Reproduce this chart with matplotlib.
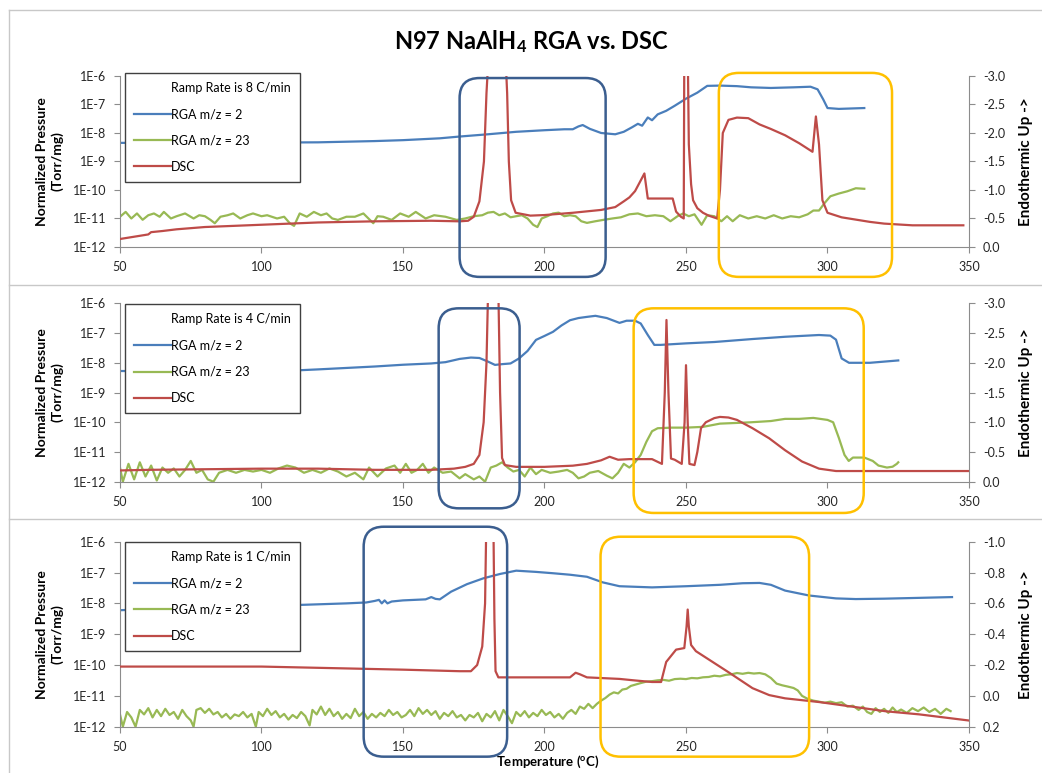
import matplotlib
matplotlib.use('Agg')
import matplotlib.pyplot as plt
from matplotlib.patches import FancyBboxPatch
from matplotlib.lines import Line2D
import matplotlib.transforms as mtransforms
from matplotlib.ticker import FixedLocator, NullLocator, FixedFormatter

plt.rcParams['font.family'] = ['Lato', 'DejaVu Sans']
plt.rcParams['mathtext.default'] = 'regular'

#---------------------------------------------------------------#
# data: (temperature C, value)
# RGA in Torr/mg, DSC in its own units (negative = endothermic up)

# ramp 8 C/min
h2_8 = [(50, 4.5e-9), (60, 4.5e-9), (80, 4.6e-9), (100, 4.6e-9), (120, 4.7e-9), (140, 5.2e-9),
        (150, 5.6e-9), (163, 6.5e-9), (170, 7.5e-9), (180, 9e-9), (190, 1.1e-8), (200, 1.25e-8),
        (207, 1.35e-8), (210, 1.35e-8), (212, 1.7e-8), (213.5, 1.9e-8), (216, 1.4e-8), (220, 1.0e-8),
        (225, 9e-9), (228, 1.1e-8), (231, 1.6e-8), (233, 2.1e-8), (234.5, 1.8e-8), (236.5, 3.5e-8),
        (238, 2.8e-8), (240, 4.5e-8), (243, 6e-8), (246, 9e-8), (250, 1.6e-7), (254, 2.6e-7),
        (257.5, 4.5e-7), (262, 4.6e-7), (268, 4.4e-7), (273, 4e-7), (280, 3.8e-7), (288, 4e-7),
        (294, 4.2e-7), (296.5, 3.4e-7), (298.5, 1.5e-7), (300, 7.5e-8), (304, 7e-8), (313, 7.5e-8)]
na_8 = [(50, 1.15e-11), (52, 1.7e-11), (54, 1.0e-11), (56, 1.5e-11), (58, 9e-12), (60, 1.3e-11),
        (62, 1.5e-11), (64, 1.15e-11), (65.5, 1.7e-11), (68, 1.0e-11), (70, 1.2e-11), (73, 1.5e-11),
        (76, 1.0e-11), (78, 1.3e-11), (80, 1.2e-11), (82, 8.9e-12), (83.5, 6.8e-12), (85.5, 1.15e-11),
        (88, 1.3e-11), (90, 1.5e-11), (92.5, 1.0e-11), (95, 1.3e-11), (97, 1.5e-11), (100, 1.2e-11),
        (102, 1.3e-11), (105.5, 1.0e-11), (108, 1.15e-11), (110, 6.8e-12), (111.5, 5.5e-12),
        (113.5, 1.5e-11), (116, 1.15e-11), (118.5, 1.7e-11), (121, 1.3e-11), (123, 1.5e-11),
        (125, 1.0e-11), (127, 8.9e-12), (130, 1.15e-11), (133, 1.15e-11), (136, 1.5e-11),
        (139.5, 6.8e-12), (141, 1.2e-11), (143, 1.15e-11), (146, 8.9e-12), (149, 1.5e-11),
        (152, 1.15e-11), (154.5, 1.7e-11), (158, 1.0e-11), (161, 1.3e-11), (165, 1.15e-11),
        (169, 8.9e-12), (172, 1.0e-11), (175, 1.2e-11), (178, 1.3e-11), (180, 1.6e-11), (182, 1.7e-11),
        (184, 1.3e-11), (186, 1.5e-11), (188, 1.1e-11), (190, 1.2e-11), (192, 1.3e-11), (194, 1.0e-11),
        (196, 6e-12), (197.5, 5e-12), (199, 1.0e-11), (201, 1.2e-11), (203, 1.5e-11), (205, 1.6e-11),
        (207, 1.2e-11), (209, 1.3e-11), (211, 1.2e-11), (213, 8e-12), (215, 7e-12), (218, 8e-12),
        (221, 9e-12), (224, 1.0e-11), (227, 1.1e-11), (230, 1.4e-11), (233, 1.5e-11), (236, 1.2e-11),
        (239, 1.3e-11), (242, 1.2e-11), (244.5, 8e-12), (247, 1.2e-11), (249, 1.5e-11), (251, 1.2e-11),
        (253, 1.4e-11), (255.5, 6e-12), (257.5, 1.3e-11), (260, 1.2e-11), (262.5, 8e-12),
        (264.5, 1.2e-11), (266.5, 8e-12), (269, 1.3e-11), (272, 1.0e-11), (275, 1.2e-11),
        (278, 1.0e-11), (281, 1.3e-11), (284, 1.0e-11), (287, 1.2e-11), (290, 1.1e-11),
        (293, 1.4e-11), (295, 1.9e-11), (297, 1.9e-11), (299, 3.5e-11), (301, 6e-11), (304, 7.5e-11),
        (307, 9e-11), (310, 1.15e-10), (313, 1.1e-10)]
dsc_8 = [(50, -0.14), (55, -0.18), (60, -0.22), (61, -0.26), (65, -0.28), (70, -0.31), (80, -0.35),
         (90, -0.37), (100, -0.39), (120, -0.43), (140, -0.45), (160, -0.46), (170, -0.45),
         (173, -0.46), (175, -0.53), (177, -0.8), (178.6, -1.5), (179.5, -2.7), (180.5, -3.6),
         (186, -3.6), (186.8, -2.7), (187.4, -1.5), (188.2, -0.82), (189.8, -0.6), (195, -0.55),
         (200, -0.56), (210, -0.6), (220, -0.65), (225, -0.7), (228, -0.8), (230, -0.87),
         (232, -0.98), (233.5, -1.12), (235.3, -1.29), (236.5, -0.85), (240, -0.85), (245.3, -0.85),
         (246.5, -0.62), (248.2, -0.53), (249.2, -0.5), (249.4, -3.5), (250.6, -3.5), (251, -1.8),
         (251.8, -1.1), (252.5, -0.82), (254, -0.68), (256, -0.6), (258, -0.55), (261, -0.5),
         (262, -1.0), (263, -2.0), (265, -2.23), (268, -2.27), (272, -2.26), (276, -2.15),
         (280, -2.07), (285, -1.96), (290, -1.82), (294.7, -1.67), (295.9, -2.29), (297, -1.8),
         (298.2, -0.82), (300, -0.6), (305, -0.52), (310, -0.48), (315, -0.44), (320, -0.41),
         (330, -0.38), (348, -0.38)]

# ramp 4 C/min
h2_4 = [(50, 5.3e-9), (60, 5.2e-9), (80, 5.0e-9), (100, 4.9e-9), (120, 6e-9), (140, 7.5e-9),
        (150, 8.6e-9), (160, 9.5e-9), (165, 1.05e-8), (170, 1.35e-8), (174, 1.5e-8), (177, 1.45e-8),
        (180, 1.1e-8), (182.5, 8.5e-9), (185, 9e-9), (188, 9.5e-9), (191, 1.4e-8), (194, 2.5e-8),
        (197, 5.9e-8), (200, 8e-8), (203, 1.1e-7), (206, 1.8e-7), (209, 2.7e-7), (212, 3.2e-7),
        (215, 3.5e-7), (218, 3.8e-7), (222, 3.2e-7), (226.5, 2.2e-7), (229, 2.6e-7), (232, 2.6e-7),
        (234, 2.1e-7), (236.5, 8.6e-8), (238.8, 4e-8), (241, 4e-8), (250, 4.5e-8), (260, 5e-8),
        (273.5, 6.3e-8), (285, 7.5e-8), (297, 8.6e-8), (301, 8.2e-8), (303, 6e-8), (305, 1.4e-8),
        (307.6, 1.0e-8), (315, 1.0e-8), (325, 1.2e-8)]
na_4 = [(50, 3e-12), (51, 1e-12), (53, 4e-12), (55, 1.2e-12), (57, 4.5e-12), (59, 1.5e-12),
        (61, 3.5e-12), (63, 1.1e-12), (65, 3e-12), (67, 2e-12), (69, 2.8e-12), (71, 1.5e-12),
        (73, 2.5e-12), (75, 5e-12), (77, 2e-12), (79, 2.5e-12), (81, 1.2e-12), (83, 1e-12),
        (85, 2e-12), (88, 2.5e-12), (91, 2e-12), (94, 2.5e-12), (97, 2.2e-12), (100, 2.5e-12),
        (103, 2e-12), (106, 2.8e-12), (109, 3.5e-12), (112, 3e-12), (115, 2e-12), (118, 2.5e-12),
        (121, 2e-12), (124, 2.8e-12), (127, 2.2e-12), (130, 1.5e-12), (133, 2e-12), (136, 1.2e-12),
        (138, 3e-12), (141, 1.5e-12), (144, 2.8e-12), (147, 3.5e-12), (149, 2e-12), (151, 4e-12),
        (153, 2e-12), (155, 2.5e-12), (157, 4e-12), (159, 2e-12), (161, 3e-12), (164, 2e-12),
        (167, 2.2e-12), (170, 1.3e-12), (172, 1.8e-12), (175, 1.2e-12), (177, 1.5e-12), (179, 1e-12),
        (181, 3e-12), (183, 3.5e-12), (185, 4.5e-12), (187, 3e-12), (189, 2.2e-12), (191, 2.5e-12),
        (193, 1.5e-12), (195, 3e-12), (197, 1.8e-12), (199, 2.5e-12), (202, 2e-12), (205, 2.2e-12),
        (208, 2.5e-12), (210, 2e-12), (212, 1.3e-12), (214, 1.5e-12), (216, 2e-12), (219, 2.3e-12),
        (222, 1.6e-12), (224, 1.3e-12), (226, 2e-12), (228, 4e-12), (230, 3e-12), (232, 4.5e-12),
        (234, 8e-12), (236, 2.2e-11), (238, 5e-11), (240, 6.3e-11), (245, 6.6e-11), (250, 6.6e-11),
        (256, 7e-11), (262, 9e-11), (268, 9.5e-11), (273, 1e-10), (280, 1.1e-10), (285, 1.3e-10),
        (290, 1.3e-10), (295, 1.4e-10), (300, 1.2e-10), (302, 1e-10), (304, 3e-11), (306, 8e-12),
        (307.5, 5e-12), (309, 6.5e-12), (313, 6.5e-12), (316, 5e-12), (318, 3.5e-12), (321, 3e-12),
        (323, 3.2e-12), (324.5, 4e-12), (325, 4.5e-12)]
dsc_4 = [(50, -0.19), (60, -0.2), (80, -0.21), (100, -0.22), (120, -0.22), (140, -0.2), (160, -0.2),
         (168, -0.22), (172, -0.25), (175, -0.3), (177, -0.45), (178.5, -1.0), (179.5, -2.0),
         (180.2, -3.5), (183.6, -3.5), (184.3, -1.5), (185, -0.4), (186, -0.28), (190, -0.25),
         (200, -0.25), (210, -0.27), (215, -0.3), (220, -0.36), (223, -0.42), (226, -0.37),
         (230, -0.38), (238, -0.38), (241.5, -0.3), (242.5, -1.5), (243.1, -2.72), (243.8, -1.5),
         (244.7, -0.39), (246, -0.37), (248.5, -0.3), (249.5, -1.0), (250, -1.96), (250.6, -1.0),
         (251.2, -0.3), (253, -0.28), (254, -0.5), (255.3, -0.9), (257, -1.0), (260, -1.07),
         (262, -1.09), (265, -1.08), (268, -1.04), (273.5, -0.9), (279.4, -0.73), (285, -0.53),
         (291, -0.34), (297, -0.22), (303, -0.18), (310, -0.18), (350, -0.18)]

# ramp 1 C/min
h2_1 = [(50, 6e-9), (60, 6.5e-9), (80, 7.5e-9), (100, 8.3e-9), (115, 9e-9), (130, 1e-8),
        (137, 1.07e-8), (140, 1.2e-8), (141.5, 1.3e-8), (142.5, 1e-8), (143.5, 1.25e-8),
        (144.5, 1e-8), (146, 1.15e-8), (150, 1.25e-8), (158, 1.35e-8), (160, 1.6e-8), (161.5, 1.4e-8),
        (163, 1.35e-8), (165, 1.8e-8), (167, 2.4e-8), (172.6, 4.2e-8), (178.4, 6.5e-8),
        (184.3, 9e-8), (190, 1.15e-7), (197, 1.05e-7), (203, 9.5e-8), (209, 8.5e-8), (215, 7.3e-8),
        (220.6, 4.8e-8), (226.5, 3.6e-8), (238, 3.3e-8), (250, 3.6e-8), (262, 4e-8), (270, 4.5e-8),
        (276, 4.6e-8), (280, 4e-8), (285, 2.6e-8), (293.5, 1.8e-8), (303, 1.45e-8), (310, 1.38e-8),
        (320, 1.42e-8), (344, 1.6e-8)]
na_1 = [(50, 2.5e-12), (51, 1.0e-12), (52.5, 3e-12), (54, 2e-12), (55.5, 1.0e-12), (57, 3.5e-12),
        (58.5, 2.5e-12), (60, 4e-12), (61.5, 2e-12), (63, 3.5e-12), (64.5, 2.2e-12), (66, 3.8e-12),
        (67.5, 2.4e-12), (69, 3e-12), (70.5, 1.8e-12), (72, 3.5e-12), (73.5, 2.2e-12), (75, 1.6e-12),
        (76, 1.0e-12), (77, 3.5e-12), (78.5, 4e-12), (80, 2.8e-12), (81.5, 3.8e-12), (83, 2.5e-12),
        (84.5, 3e-12), (86, 2e-12), (87.5, 2.6e-12), (89, 1.8e-12), (90.5, 2.5e-12), (92, 2.2e-12),
        (93.5, 3e-12), (95, 2e-12), (96.5, 2.6e-12), (98, 1.0e-12), (99, 3e-12), (100.5, 2.2e-12),
        (102, 3.8e-12), (103.5, 2.4e-12), (105, 3.2e-12), (106.5, 2e-12), (108, 2.6e-12),
        (109.5, 1.7e-12), (111, 2.4e-12), (112.5, 1.9e-12), (114, 3e-12), (115.5, 2.2e-12),
        (117, 1.1e-12), (118, 3.5e-12), (119.5, 2.5e-12), (121, 4.5e-12), (122.5, 2.4e-12),
        (124, 3.8e-12), (125.5, 2.2e-12), (127, 3e-12), (128.5, 1.8e-12), (130, 2.6e-12),
        (131.5, 1.9e-12), (133, 3.8e-12), (134.5, 2.2e-12), (136, 3e-12), (137.5, 1.8e-12),
        (139, 2.6e-12), (140.5, 2e-12), (142, 2.8e-12), (143.5, 2.2e-12), (145, 3.5e-12),
        (146.5, 2.4e-12), (148, 3e-12), (149.5, 2e-12), (151, 2.4e-12), (152.5, 3.5e-12),
        (154, 2.2e-12), (155.5, 4e-12), (157, 2.6e-12), (158.5, 3.5e-12), (160, 2.4e-12),
        (161.5, 3.2e-12), (163, 1.8e-12), (164.5, 2.8e-12), (166, 2.2e-12), (167.5, 3.2e-12),
        (169, 2e-12), (170.5, 2.4e-12), (172, 1.6e-12), (173.5, 2.4e-12), (175, 2e-12),
        (176.5, 2.8e-12), (178, 1.5e-12), (179.5, 2.6e-12), (181, 2e-12), (182.5, 3.2e-12),
        (184, 1.6e-12), (185.5, 3.5e-12), (187, 2.2e-12), (188.5, 1.3e-12), (190, 3e-12),
        (191.5, 2.2e-12), (193, 3.2e-12), (194.5, 2e-12), (196, 2.8e-12), (197.5, 2.2e-12),
        (199, 3.5e-12), (200.5, 2.4e-12), (202, 3e-12), (203.5, 2e-12), (205, 2.6e-12),
        (206.5, 1.8e-12), (208, 2.8e-12), (209.5, 3.5e-12), (211, 2.6e-12), (212.5, 4.5e-12),
        (214, 3.8e-12), (215.5, 5.5e-12), (217, 4e-12), (218.5, 5.5e-12), (220, 7e-12),
        (221.5, 8.5e-12), (223, 1.1e-11), (224.5, 1.3e-11), (226, 1.2e-11), (227.5, 1.6e-11),
        (229, 1.7e-11), (230.5, 2.1e-11), (232, 2.3e-11), (234, 2.6e-11), (236, 2.9e-11),
        (238, 3e-11), (240, 3.2e-11), (242, 3.3e-11), (244, 3.1e-11), (246, 3.5e-11), (248, 3.6e-11),
        (250, 3.5e-11), (252, 3.8e-11), (254, 3.7e-11), (256, 4e-11), (258, 4.1e-11), (260, 4.5e-11),
        (262, 4.3e-11), (264, 4.8e-11), (266, 5e-11), (268, 5.5e-11), (270, 5.2e-11), (272, 5.6e-11),
        (274, 5.3e-11), (276, 5.5e-11), (278, 5e-11), (280, 3.8e-11), (282, 2.5e-11), (284, 2.2e-11),
        (286, 2e-11), (288, 1.8e-11), (289.5, 1.5e-11), (291, 1e-11), (293, 8e-12), (295, 7e-12),
        (297, 6.5e-12), (299, 6e-12), (301, 6.5e-12), (303, 5.8e-12), (305, 6.2e-12), (307, 4.5e-12),
        (309, 4.8e-12), (311, 3.5e-12), (312.5, 4.5e-12), (314, 3e-12), (315.5, 2.6e-12),
        (317, 4e-12), (318.5, 3e-12), (320, 3.8e-12), (321.5, 2.8e-12), (323, 4.2e-12),
        (324.5, 3e-12), (326, 3.6e-12), (328, 2.8e-12), (330, 4e-12), (332, 3.2e-12), (334, 4.2e-12),
        (336, 3e-12), (338, 3.8e-12), (340, 2.6e-12), (342, 3.8e-12), (343.5, 3.2e-12)]
dsc_1 = [(50, -0.19), (100, -0.19), (150, -0.17), (170, -0.16), (174, -0.16), (176.2, -0.2),
         (178, -0.32), (179, -0.6), (179.5, -1.2), (181.9, -1.2), (182.3, -0.5), (182.7, -0.16),
         (183.7, -0.12), (191, -0.12), (209, -0.12), (211, -0.15), (212.5, -0.14), (215, -0.12),
         (226.5, -0.11), (232, -0.1), (238, -0.09), (241.2, -0.09), (243, -0.22), (246.5, -0.3),
         (249.4, -0.31), (250.2, -0.45), (250.6, -0.56), (251, -0.45), (251.8, -0.33), (253.5, -0.29),
         (259.4, -0.22), (265.3, -0.15), (273.5, -0.05), (279.4, -0.005), (285, 0.016), (297, 0.04),
         (308.8, 0.07), (320.6, 0.10), (332.4, 0.12), (350, 0.16)]

ramps = [8, 4, 1]
x_ticks = [50, 100, 150, 200, 250, 300, 350]
p_ticks = [1e-12, 1e-11, 1e-10, 1e-9, 1e-8, 1e-7, 1e-6]
p_labels = ['1E-12', '1E-11', '1E-10', '1E-9', '1E-8', '1E-7', '1E-6']
dsc_ticks_big = [-3.0, -2.5, -2.0, -1.5, -1.0, -0.5, 0.0]
dsc_ticks_small = [-1.0, -0.8, -0.6, -0.4, -0.2, 0.0, 0.2]

#---------------------------------------------------------------#
C_H2 = '#4A7EBB'
C_NA = '#98B954'
C_DSC = '#BE4B48'
C_AX = '#8C8C8C'
C_BLUEBOX = '#3B5E8F'
C_YELBOX = '#FFC000'
LW = 1.6

fig = plt.figure(figsize=(10.42, 7.73), dpi=100)


def add_box(ax, x0, x1, y0, y1, color):
    # x in data, y in axes fraction -> inches so the corners stay round
    tr = mtransforms.blended_transform_factory(ax.transData, ax.transAxes)
    inv = fig.dpi_scale_trans.inverted()
    a = inv.transform(tr.transform((x0, y0)))
    b = inv.transform(tr.transform((x1, y1)))
    box = FancyBboxPatch((a[0], a[1]), b[0] - a[0], b[1] - a[1],
                         boxstyle='round,pad=0,rounding_size=0.2',
                         transform=fig.dpi_scale_trans, fill=False,
                         ec=color, lw=1.8, zorder=30)
    fig.add_artist(box)


def panel(rect, h2, na, dsc, ramp, dsc_lim, dsc_ticks, leg_top, boxes):
    ax = fig.add_axes(rect)
    ax2 = ax.twinx()

    ax.plot(*zip(*h2), color=C_H2, lw=LW, solid_joinstyle='round')
    ax.plot(*zip(*na), color=C_NA, lw=LW, solid_joinstyle='round')
    ax2.plot(*zip(*dsc), color=C_DSC, lw=LW, solid_joinstyle='round')

    ax.set_yscale('log')
    ax.set_ylim(1e-12, 1e-6)
    ax.set_xlim(50, 350)
    ax.yaxis.set_major_locator(FixedLocator(p_ticks))
    ax.yaxis.set_major_formatter(FixedFormatter(p_labels))
    ax.yaxis.set_minor_locator(NullLocator())
    ax.set_xticks(x_ticks)

    ax2.set_ylim(dsc_lim)
    ax2.set_yticks(dsc_ticks)
    ax2.set_yticklabels(['%.1f' % v for v in dsc_ticks])

    for s in ['top', 'right']:
        ax.spines[s].set_visible(False)
    for s in ['top', 'left', 'bottom']:
        ax2.spines[s].set_visible(False)
    ax.spines['left'].set_color(C_AX)
    ax.spines['bottom'].set_color(C_AX)
    ax2.spines['right'].set_color(C_AX)

    ax.tick_params(axis='y', direction='out', length=4, width=0.8, color=C_AX,
                   labelsize=9, labelcolor='#262626', pad=6)
    ax.tick_params(axis='x', direction='out', length=4, width=0.8, color=C_AX,
                   labelsize=9, labelcolor='#262626', pad=6)
    ax2.tick_params(axis='y', direction='out', length=4, width=0.8, color=C_AX,
                    labelsize=9, labelcolor='#262626', pad=6)

    ax.text(-0.083, 0.5, 'Normalized Pressure\n(Torr/mg)', transform=ax.transAxes,
            rotation=90, ha='center', va='center', fontsize=10, fontweight='bold',
            linespacing=1.25)
    ax2.text(1.067, 0.5, 'Endothermic Up ->', transform=ax2.transAxes,
             rotation=90, ha='center', va='center', fontsize=11, fontweight='bold')

    handles = [Line2D([], [], color='none'),
               Line2D([], [], color=C_H2, lw=LW),
               Line2D([], [], color=C_NA, lw=LW),
               Line2D([], [], color=C_DSC, lw=LW)]
    labels = ['Ramp Rate is %d C/min' % ramp, 'RGA m/z = 2', 'RGA m/z = 23', 'DSC']
    leg = ax2.legend(handles, labels, loc='upper left', bbox_to_anchor=(0.006, leg_top),
                     borderaxespad=0, fontsize=9, frameon=True, fancybox=False,
                     framealpha=1, edgecolor='#404040', handlelength=3.0,
                     handletextpad=0.0, labelspacing=1.15, borderpad=0.7)
    leg.get_frame().set_linewidth(1.0)
    leg.set_zorder(20)

    for (x0, x1, y0, y1, c) in boxes:
        add_box(ax, x0, x1, y0, y1, c)
    return ax


x0, w = 120 / 1042, 849 / 1042
panel([x0, 0.6805, w, 0.2212], h2_8, na_8, dsc_8, ramps[0], (0.0, -3.0), dsc_ticks_big, 1.018,
      [(170, 221.6, -0.175, 0.988, C_BLUEBOX), (261.6, 322.8, -0.175, 1.018, C_YELBOX)])
panel([x0, 0.3768, w, 0.2308], h2_4, na_4, dsc_4, ramps[1], (0.0, -3.0), dsc_ticks_big, 0.994,
      [(162.6, 191.2, -0.149, 0.972, C_BLUEBOX), (231.5, 312.8, -0.175, 0.972, C_YELBOX)])
ax3 = panel([x0, 0.0599, w, 0.2393], h2_1, na_1, dsc_1, ramps[2], (0.2, -1.0), dsc_ticks_small, 0.997,
            [(136.1, 186.8, -0.162, 1.081, C_BLUEBOX), (219.8, 293.5, -0.162, 1.027, C_YELBOX)])

ax3.text(0.5035, -0.19, 'Temperature ($^{o}$C)', transform=ax3.transAxes,
         ha='center', va='center', fontsize=9.5, fontweight='bold')

fig.text(0.51, 0.946, 'N97 NaAlH$_4$ RGA vs. DSC', ha='center', va='center',
         fontsize=17, fontweight='bold')

# chart frame and panel separators
for yy in [285, 519]:
    fig.add_artist(Line2D([9 / 1042, 1.0], [1 - yy / 773, 1 - yy / 773],
                          transform=fig.transFigure, color='#C8C8C8', lw=1))
fig.add_artist(Line2D([9 / 1042, 1.0], [1 - 10 / 773, 1 - 10 / 773],
                      transform=fig.transFigure, color='#C8C8C8', lw=1))
fig.add_artist(Line2D([9 / 1042, 9 / 1042], [0, 1 - 10 / 773],
                      transform=fig.transFigure, color='#C8C8C8', lw=1))

fig.savefig('out.png', dpi=100)
